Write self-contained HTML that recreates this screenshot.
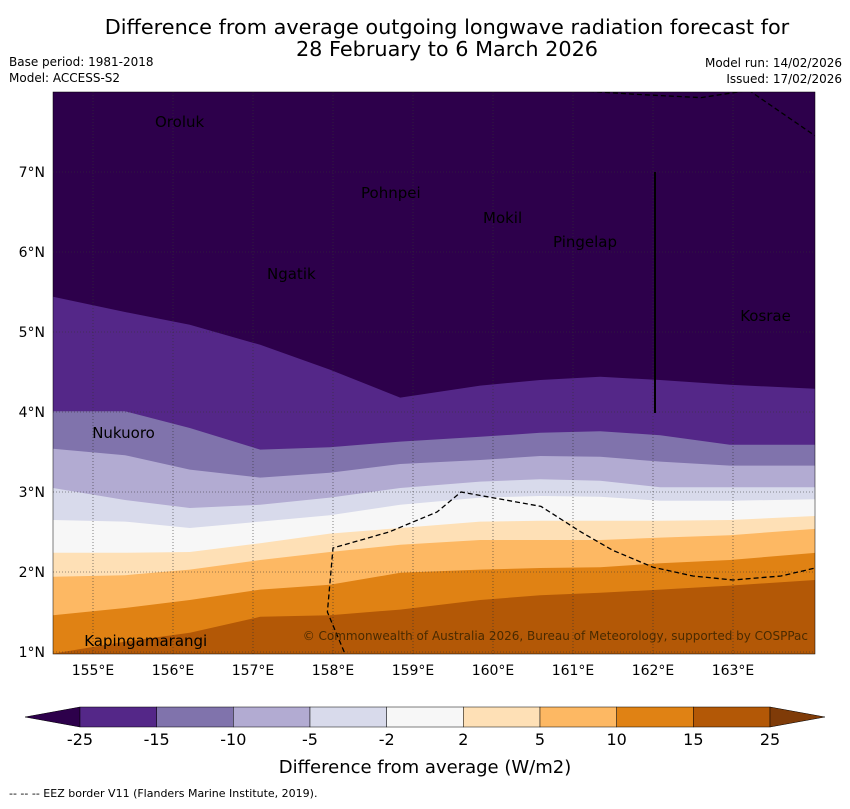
<!DOCTYPE html>
<html><head><meta charset="utf-8"><style>
body{margin:0;background:#fff;width:850px;height:804px;overflow:hidden;font-family:"Liberation Sans","DejaVu Sans",sans-serif}
svg text{font-family:"DejaVu Sans","Liberation Sans",sans-serif}
</style></head><body>
<svg id="chart" width="850" height="804">
<text x="447" y="34" font-size="20.8" text-anchor="middle">Difference from average outgoing longwave radiation forecast for</text>
<text x="447" y="56" font-size="20.8" text-anchor="middle">28 February to 6 March 2026</text>
<text x="9" y="66" font-size="12">Base period: 1981-2018</text>
<text x="9" y="82" font-size="12">Model: ACCESS-S2</text>
<text x="842" y="67" font-size="12" text-anchor="end">Model run: 14/02/2026</text>
<text x="842" y="83" font-size="12" text-anchor="end">Issued: 17/02/2026</text>
<g id="map"></g>
<g id="cbar"></g>
<text x="425" y="773" font-size="18" text-anchor="middle">Difference from average (W/m2)</text>
<text x="9" y="797" font-size="11">--  --  -- EEZ border V11 (Flanders Marine Institute, 2019).</text>
</svg>
<script>
const lons=[154.5,155.4,156.21,157.09,157.96,158.84,159.84,160.59,161.34,162.09,162.96,164.03];
const b1=[5.44,5.25,5.09,4.84,4.53,4.18,4.33,4.40,4.44,4.40,4.34,4.29];
const b2=[4.01,4.01,3.80,3.53,3.56,3.63,3.69,3.74,3.76,3.71,3.59,3.59];
const b3=[3.54,3.46,3.28,3.18,3.24,3.35,3.40,3.45,3.44,3.38,3.33,3.33];
const b4=[3.05,2.90,2.80,2.84,2.93,3.05,3.13,3.16,3.14,3.06,3.06,3.06];
const b5=[2.65,2.63,2.55,2.63,2.71,2.84,2.93,2.95,2.94,2.89,2.89,2.91];
const b6=[2.24,2.24,2.25,2.36,2.48,2.55,2.63,2.64,2.64,2.64,2.65,2.70];
const b7=[1.94,1.96,2.03,2.15,2.25,2.34,2.40,2.40,2.40,2.43,2.46,2.54];
const b8=[1.46,1.55,1.65,1.78,1.84,1.99,2.03,2.05,2.06,2.11,2.15,2.24];
const b9=[0.98,1.13,1.24,1.44,1.46,1.53,1.65,1.71,1.74,1.78,1.83,1.90];
const bandColors=['#2d004b','#542788','#8073ac','#b2abd2','#d8daeb','#f7f7f7','#fee0b6','#fdb863','#e08214','#b35806'];
const cbarLabels=['-25','-15','-10','-5','-2','2','5','10','15','25'];
const lonTicks=[155,156,157,158,159,160,161,162,163];
const latTicks=[1,2,3,4,5,6,7];
const places=[['Oroluk',155.775,7.56],['Pohnpei',158.35,6.675],['Mokil',159.875,6.36],['Pingelap',160.75,6.06],['Ngatik',157.175,5.66],['Kosrae',163.09,5.14],['Nukuoro',154.99,3.675],['Kapingamarangi',154.89,1.075]];
const eezLon=[161.0,161.8,162.6,163.2,164.03];
const eezLat=[8.02,7.97,7.93,8.02,7.45];
const eez2Lon=[158.14,157.93,158.0,158.7,159.3,159.6,160.6,161.1,161.5,162.0,162.5,163.0,163.6,164.03];
const eez2Lat=[1.0,1.5,2.3,2.5,2.75,3.0,2.82,2.5,2.27,2.06,1.95,1.9,1.95,2.05];
const NS='http://www.w3.org/2000/svg';
const X0=53,X1=815,Y0=92,Y1=654;
const xs=l=>X0+(l-154.5)*80, ys=la=>Y0+(8-la)*80;
function mk(t,a,p){const e=document.createElementNS(NS,t);for(const k in a)e.setAttribute(k,a[k]);p.appendChild(e);return e;}
const map=document.getElementById('map');
const clip=mk('clipPath',{id:'mc'},map);mk('rect',{x:X0,y:Y0,width:X1-X0,height:Y1-Y0},clip);
const g=mk('g',{'clip-path':'url(#mc)'},map);
const bg=mk('rect',{x:X0,y:Y0,width:X1-X0,height:Y1-Y0,fill:bandColors[0]},g);


[b1,b2,b3,b4,b5,b6,b7,b8,b9].forEach((b,i)=>{
 let d='M'+(X0-5)+','+(Y1+5);
 lons.forEach((l,j)=>{d+=' L'+xs(l)+','+ys(b[j]);});
 d+=' L'+(X1+5)+','+ys(b[b.length-1])+' L'+(X1+5)+','+(Y1+5)+'Z';
 const p=mk('path',{d:d,fill:bandColors[i+1]},g);
 
 
});
lonTicks.forEach(l=>{
 const ln=mk('line',{x1:xs(l),x2:xs(l),y1:Y0,y2:Y1,stroke:'#333','stroke-width':0.6,'stroke-dasharray':'1,2'},g);
 
 
 const t=mk('text',{x:xs(l),y:675,'font-size':14,'text-anchor':'middle'},map);t.textContent=l+'°E';
 
 
});
latTicks.forEach(l=>{
 const ln=mk('line',{x1:X0,x2:X1,y1:ys(l),y2:ys(l),stroke:'#333','stroke-width':0.6,'stroke-dasharray':'1,2'},g);
 
 
 const t=mk('text',{x:45,y:ys(l)+5,'font-size':14,'text-anchor':'end'},map);t.textContent=l+'°N';
 
 
});
[[eezLon,eezLat],[eez2Lon,eez2Lat]].forEach(([a,b])=>{
 const e=mk('polyline',{points:a.map((l,i)=>xs(l)+','+ys(b[i])).join(' '),fill:'none',stroke:'#000','stroke-width':1.3,'stroke-dasharray':'5,3'},g);
 
 
});
const vl=mk('line',{x1:655,x2:655,y1:172,y2:413,stroke:'#000','stroke-width':2},g);


places.forEach(([n,l,la])=>{
 const t=mk('text',{x:xs(l),y:ys(la),'font-size':15},g);t.textContent=n;
 
 
});
const cp=mk('text',{x:808,y:640,'font-size':12,'text-anchor':'end',fill:'#4a2a00'},g);cp.textContent='© Commonwealth of Australia 2026, Bureau of Meteorology, supported by COSPPac';


mk('rect',{x:X0,y:Y0,width:X1-X0,height:Y1-Y0,fill:'none',stroke:'#000','stroke-width':0.5},map);
const cb=document.getElementById('cbar');
const cx0=80,cx1=770,cy=707,ch=20,n=9,w=(cx1-cx0)/n;
const lt=mk('polygon',{points:`25,${cy+ch/2} ${cx0},${cy} ${cx0},${cy+ch}`,fill:bandColors[0],stroke:'#000','stroke-width':0.5},cb);


for(let i=0;i<n;i++){
 const r=mk('rect',{x:cx0+i*w,y:cy,width:w,height:ch,fill:bandColors[i+1],stroke:'#000','stroke-width':0.5},cb);
 
 
}
const rt=mk('polygon',{points:`825,${cy+ch/2} ${cx1},${cy} ${cx1},${cy+ch}`,fill:'#7f3b08',stroke:'#000','stroke-width':0.5},cb);


cbarLabels.forEach((s,i)=>{
 const t=mk('text',{x:cx0+i*w,y:745,'font-size':16,'text-anchor':'middle'},cb);t.textContent=s;
 
 
});
</script>
</body></html>
